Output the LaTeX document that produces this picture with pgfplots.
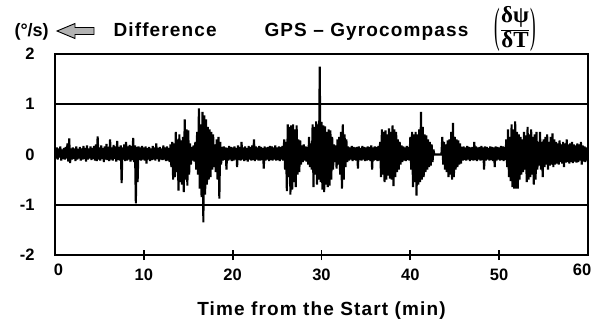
\documentclass[border=0pt]{standalone}
\usepackage{pgfplots}
\usepackage{pgfplotstable}
\pgfplotsset{compat=1.18}
\usepackage{fontspec}
\newfontfamily\labf{Liberation Sans}[LetterSpace=6]
\newfontfamily\plainf{Liberation Sans}
\newfontfamily\grk{Liberation Serif}
\newcommand\bigfont{\labf\bfseries\fontsize{19bp}{22bp}\selectfont}
\newcommand\tickfont{\plainf\bfseries\fontsize{16.5bp}{19bp}\selectfont}
\newcommand\grkbig{\grk\bfseries\fontsize{23bp}{26bp}\selectfont}

\pgfplotstableread[row sep=\\]{
y\\
0.10\\-0.08\\0.14\\-0.10\\0.12\\-0.06\\0.16\\-0.12\\0.10\\-0.09\\
0.13\\-0.10\\0.15\\-0.08\\0.22\\-0.14\\0.32\\-0.17\\0.12\\-0.10\\
0.14\\-0.09\\0.12\\-0.13\\0.16\\-0.10\\0.11\\-0.08\\0.15\\-0.12\\
0.12\\-0.10\\0.17\\-0.09\\0.13\\-0.14\\0.18\\-0.10\\0.12\\-0.08\\
0.16\\-0.11\\0.13\\-0.09\\0.17\\-0.12\\0.20\\-0.13\\0.36\\-0.10\\
0.14\\-0.12\\0.18\\-0.09\\0.13\\-0.15\\0.16\\-0.10\\0.21\\-0.11\\
0.15\\-0.13\\0.30\\-0.10\\0.14\\-0.12\\0.19\\-0.09\\0.16\\-0.14\\
0.27\\-0.11\\0.15\\-0.12\\0.18\\-0.57\\0.14\\-0.10\\0.20\\-0.13\\
0.25\\-0.12\\0.16\\-0.10\\0.19\\-0.14\\0.17\\-0.11\\0.33\\-0.15\\
0.18\\-0.97\\0.15\\-0.55\\0.16\\-0.11\\0.14\\-0.12\\0.17\\-0.10\\
0.14\\-0.12\\0.16\\-0.18\\0.13\\-0.10\\0.15\\-0.13\\0.12\\-0.11\\
0.17\\-0.10\\0.14\\-0.12\\0.22\\-0.09\\0.13\\-0.14\\0.15\\-0.10\\
0.12\\-0.11\\0.18\\-0.10\\0.14\\-0.13\\0.16\\-0.12\\0.13\\-0.15\\
0.20\\-0.25\\0.25\\-0.50\\0.22\\-0.45\\0.45\\-0.35\\0.30\\-0.72\\
0.40\\-0.55\\0.28\\-0.60\\0.35\\-0.75\\0.70\\-0.50\\0.50\\-0.62\\
0.48\\-0.40\\0.22\\-0.20\\0.15\\-0.12\\0.18\\-0.14\\0.25\\-0.30\\
0.45\\-0.40\\0.92\\-0.68\\0.60\\-0.85\\0.85\\-1.35\\0.78\\-0.80\\
0.70\\-0.60\\0.55\\-0.50\\0.50\\-0.45\\0.45\\-0.30\\0.40\\-0.25\\
0.20\\-0.35\\0.30\\-0.50\\0.35\\-0.88\\0.25\\-0.20\\0.15\\-0.12\\
0.16\\-0.11\\0.14\\-0.30\\0.13\\-0.12\\0.17\\-0.10\\0.15\\-0.13\\
0.14\\-0.12\\0.16\\-0.10\\0.13\\-0.25\\0.18\\-0.11\\0.15\\-0.12\\
0.25\\-0.10\\0.14\\-0.13\\0.16\\-0.11\\0.13\\-0.14\\0.17\\-0.10\\
0.15\\-0.12\\0.18\\-0.11\\0.30\\-0.13\\0.16\\-0.10\\0.14\\-0.12\\
0.17\\-0.12\\0.15\\-0.11\\0.13\\-0.28\\0.16\\-0.12\\0.14\\-0.10\\
0.15\\-0.13\\0.17\\-0.11\\0.16\\-0.12\\0.14\\-0.10\\0.18\\-0.12\\
0.14\\-0.11\\0.16\\-0.13\\0.15\\-0.10\\0.17\\-0.12\\0.30\\-0.30\\
0.25\\-0.73\\0.60\\-0.45\\0.55\\-0.80\\0.58\\-0.70\\0.60\\-0.55\\
0.50\\-0.65\\0.58\\-0.40\\0.30\\-0.35\\0.28\\-0.20\\0.18\\-0.15\\
0.20\\-0.12\\0.16\\-0.14\\0.15\\-0.20\\0.35\\-0.25\\0.22\\-0.30\\
0.60\\-0.65\\0.55\\-0.40\\0.66\\-0.60\\0.60\\-0.50\\1.75\\-0.55\\
0.65\\-0.70\\0.58\\-0.75\\0.56\\-0.60\\0.45\\-0.65\\0.50\\-0.62\\
0.48\\-0.50\\0.35\\-0.30\\0.20\\-0.15\\0.18\\-0.28\\0.30\\-0.20\\
0.35\\-0.40\\0.45\\-0.68\\0.60\\-0.50\\0.40\\-0.25\\0.30\\-0.15\\
0.16\\-0.12\\0.14\\-0.10\\0.17\\-0.13\\0.15\\-0.11\\0.14\\-0.12\\
0.15\\-0.28\\0.16\\-0.11\\0.13\\-0.12\\0.17\\-0.10\\0.15\\-0.13\\
0.14\\-0.12\\0.16\\-0.11\\0.15\\-0.13\\0.18\\-0.30\\0.14\\-0.12\\
0.16\\-0.11\\0.15\\-0.13\\0.17\\-0.12\\0.25\\-0.45\\0.50\\-0.40\\
0.45\\-0.55\\0.48\\-0.50\\0.40\\-0.42\\0.52\\-0.48\\0.45\\-0.50\\
0.58\\-0.63\\0.50\\-0.45\\0.45\\-0.35\\0.30\\-0.30\\0.25\\-0.20\\
0.18\\-0.15\\0.16\\-0.12\\0.14\\-0.13\\0.17\\-0.11\\0.15\\-0.12\\
0.35\\-0.30\\0.45\\-0.65\\0.40\\-0.55\\0.45\\-0.82\\0.40\\-0.60\\
0.50\\-0.55\\0.85\\-0.50\\0.55\\-0.45\\0.40\\-0.35\\0.38\\-0.30\\
0.30\\-0.25\\0.25\\-0.22\\0.20\\-0.15\\0.10\\0.00\\0.00\\0.00\\
0.00\\0.00\\0.00\\0.00\\0.00\\0.00\\0.35\\-0.20\\0.25\\-0.30\\
0.20\\-0.35\\0.28\\-0.45\\0.30\\-0.40\\0.45\\-0.50\\0.63\\-0.45\\
0.35\\-0.30\\0.30\\-0.25\\0.28\\-0.20\\0.22\\-0.18\\0.15\\-0.12\\
0.16\\-0.11\\0.14\\-0.12\\0.17\\-0.10\\0.15\\-0.13\\0.14\\-0.11\\
0.15\\-0.12\\0.25\\-0.11\\0.16\\-0.13\\0.14\\-0.10\\0.15\\-0.12\\
0.17\\-0.11\\0.14\\-0.30\\0.16\\-0.12\\0.15\\-0.10\\0.13\\-0.12\\
0.16\\-0.11\\0.15\\-0.13\\0.14\\-0.25\\0.16\\-0.12\\0.15\\-0.10\\
0.14\\-0.12\\0.17\\-0.11\\0.16\\-0.13\\0.15\\-0.11\\0.30\\-0.25\\
0.50\\-0.45\\0.35\\-0.53\\0.60\\-0.65\\0.50\\-0.68\\0.66\\-0.68\\
0.45\\-0.68\\0.40\\-0.50\\0.35\\-0.40\\0.30\\-0.35\\0.45\\-0.30\\
0.38\\-0.55\\0.55\\-0.50\\0.40\\-0.45\\0.50\\-0.40\\0.35\\-0.60\\
0.40\\-0.50\\0.45\\-0.30\\0.25\\-0.22\\0.45\\-0.30\\0.25\\-0.45\\
0.30\\-0.25\\0.35\\-0.20\\0.40\\-0.30\\0.25\\-0.22\\0.35\\-0.20\\
0.42\\-0.25\\0.30\\-0.20\\0.25\\-0.18\\0.22\\-0.20\\0.28\\-0.15\\
0.20\\-0.18\\0.25\\-0.25\\0.22\\-0.16\\0.30\\-0.15\\0.20\\-0.18\\
0.22\\-0.15\\0.25\\-0.17\\0.20\\-0.14\\0.18\\-0.16\\0.22\\-0.15\\
0.20\\-0.12\\0.25\\-0.20\\0.18\\-0.14\\0.16\\-0.15\\0.14\\-0.12\\
0.10\\
}\sigdata

\begin{document}
\begin{tikzpicture}
\path[use as bounding box] (-55bp,-69bp) rectangle (537bp,255bp);
\begin{axis}[
  at={(0,0)}, anchor=south west,
  scale only axis, width=533bp, height=201bp,
  xmin=0, xmax=60, ymin=-2, ymax=2,
  axis line style={line width=1.8bp},
  xtick={10,20,30,40,50},
  xticklabels={10,20,30,40,50},
  extra x ticks={0,60},
  extra x tick labels={\hspace*{7bp}0,60\hspace*{12bp}},
  extra x tick style={major tick length=0pt},
  ytick={-2,-1,0,1,2},
  yticklabels={-2,-1,0,1,2},
  xtick pos=left, ytick pos=left,
  tick align=center,
  major tick length=10bp,
  x tick style={line width=1.8bp, black},
  y tick style={draw=none},
  tick label style={font=\tickfont},
  yticklabel style={xshift=-12bp},
  xticklabel style={yshift=-5bp},
]
\addplot[black, line width=2bp] coordinates {(0,1) (60,1)};
\addplot[black, line width=2bp] coordinates {(0,-1) (60,-1)};
\addplot[black, line width=2.1bp, line join=miter, miter limit=2] table[x expr=\coordindex/10, y index=0] {\sigdata};
\end{axis}
\node[anchor=base, font=\bigfont] at (266.5bp,-60bp) {Time from the Start (min)};
\node[anchor=base west, font=\plainf\bfseries\fontsize{18bp}{21bp}\selectfont] at (-44bp,218.5bp) {(°/s)};
\draw[line width=0.9bp, fill=gray!60] (2bp,224bp) -- (20bp,231.5bp) -- (20bp,227.5bp) -- (39bp,227.5bp) -- (39bp,220.5bp) -- (20bp,220.5bp) -- (20bp,216.5bp) -- cycle;
\node[anchor=base west, font=\bigfont] at (55bp,218.5bp) {Difference};
\node[anchor=base west, font=\bigfont] at (206bp,218.5bp) {GPS – Gyrocompass};
\node[anchor=center, inner sep=0pt] at (460bp,226bp) {\grk\fontsize{16bp}{19bp}\selectfont
  \raisebox{-7.4bp}{\grk\fontsize{21bp}{24bp}\selectfont\scalebox{0.8}[2.3]{(}}%
  $\displaystyle\frac{\mbox{\grkbig δψ}}{\mbox{\grkbig δT}}$%
  \raisebox{-7.4bp}{\grk\fontsize{21bp}{24bp}\selectfont\scalebox{0.8}[2.3]{)}}};
\end{tikzpicture}
\end{document}
